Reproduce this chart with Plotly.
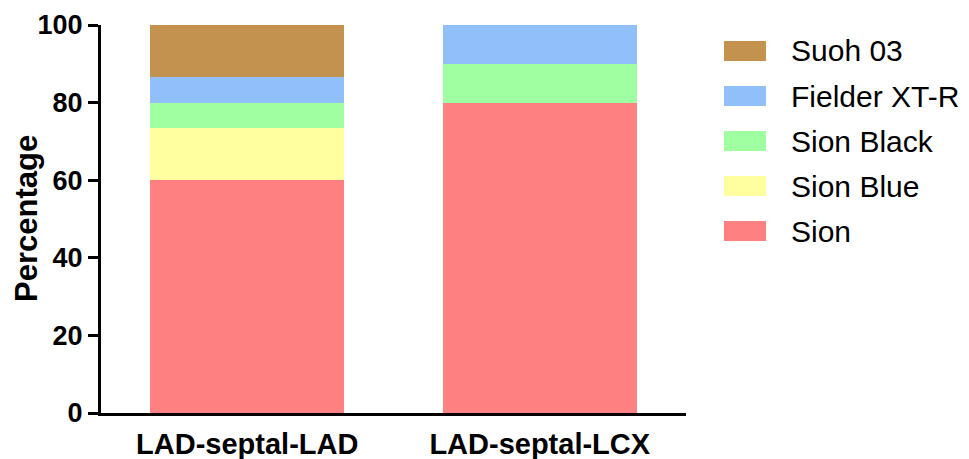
import plotly.graph_objects as go

categories = ["LAD-septal-LAD", "LAD-septal-LCX"]
series_names = ["Sion", "Sion Blue", "Sion Black", "Fielder XT-R", "Suoh 03"]
sion = [60.0, 80.0]
sion_blue = [13.33, 0.0]
sion_black = [6.67, 10.0]
fielder = [6.67, 10.0]
suoh = [13.33, 0.0]
series_values = [sion, sion_blue, sion_black, fielder, suoh]
colors = ["#FF8080", "#FFFFA0", "#A0FFA0", "#90BFF9", "#C4924F"]
y_ticks = [0, 20, 40, 60, 80, 100]
y_title = "Percentage"

W, H = 969, 459
L, R, T, B = 101, 283, 25, 46
pw, ph = W - L - R, H - T - B

fig = go.Figure()
for name, vals, col in zip(series_names, series_values, colors):
    fig.add_trace(go.Bar(x=categories, y=vals, name=name, marker=dict(color=col, line=dict(width=0)),
                         width=0.663, showlegend=False))

# custom legend (top item = last series)
font_family = "Liberation Sans, Arial, sans-serif"
for i, (name, col) in enumerate(reversed(list(zip(series_names, colors)))):
    cy = 51 + 45 * i
    y0 = 1 - (cy - 10 - T) / ph
    y1 = 1 - (cy + 10 - T) / ph
    x0 = (724 - L) / pw
    x1 = (766 - L) / pw
    fig.add_shape(type="rect", xref="paper", yref="paper", x0=x0, x1=x1, y0=y1, y1=y0,
                  fillcolor=col, line=dict(width=0))
    fig.add_annotation(xref="paper", yref="paper", x=(789 - L) / pw, y=1 - (cy - T) / ph,
                       text=name, showarrow=False, xanchor="left", yanchor="middle",
                       font=dict(family=font_family, size=30, color="black"))

# y-axis title
fig.add_annotation(xref="paper", yref="paper", x=(26 - L) / pw, y=0.5, text=y_title,
                   textangle=-90, showarrow=False, xanchor="center", yanchor="middle",
                   font=dict(family=font_family, size=31, color="black", weight="bold"))

fig.update_layout(
    template="none",
    barmode="stack",
    width=W, height=H,
    margin=dict(l=L, r=R, t=T, b=B, pad=0, autoexpand=False),
    plot_bgcolor="white", paper_bgcolor="white",
    font=dict(family=font_family, color="black"),
    bargap=0,
)
fig.update_xaxes(
    range=[-0.5, 1.5], showline=True, linecolor="black", linewidth=3,
    ticks="", showgrid=False, zeroline=False, automargin=False,
    tickfont=dict(family=font_family, size=29, color="black", weight="bold"),
    ticklabelstandoff=3,
)
fig.update_yaxes(
    range=[0, 100], tickvals=y_ticks, showline=True, linecolor="black", linewidth=3,
    ticks="outside", ticklen=10, tickwidth=3, tickcolor="black",
    showgrid=False, zeroline=False, automargin=False,
    tickfont=dict(family=font_family, size=27, color="black", weight="bold"),
)

fig.write_html("out.html", config={"displayModeBar": False},
               post_script="document.body.style.margin='0px';document.body.style.overflow='hidden';")
